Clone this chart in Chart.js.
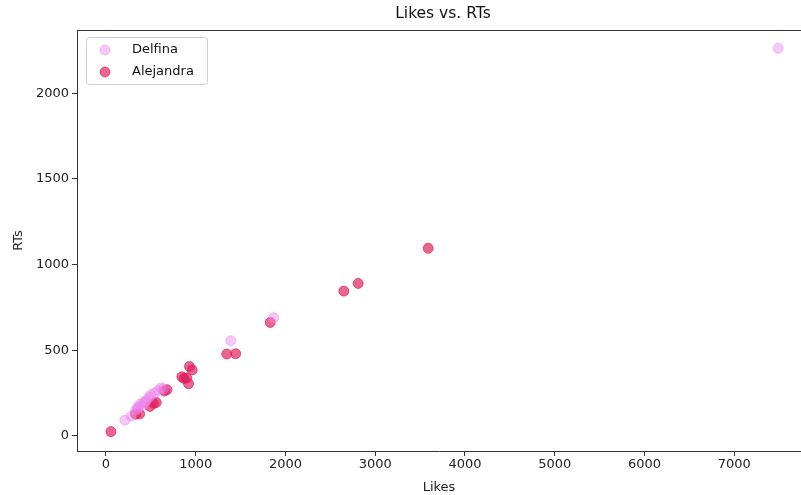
<!DOCTYPE html>
<html>
<head>
<meta charset="utf-8">
<script src="https://cdn.jsdelivr.net/npm/chart.js@4"></script>
<style>
  html, body { margin: 0; padding: 0; background: #fff; }
  #wrap { width: 801px; height: 495px; }
</style>
</head>
<body>
<div id="wrap"><canvas id="myChart" width="801" height="495"></canvas></div>
<script>
// values
const delfinaLikes = [210, 280, 330, 350, 360, 380, 400, 420, 440, 450, 480, 500, 540, 580, 610, 640, 1390, 1870, 7490];
const delfinaRTs   = [92, 115, 150, 160, 170, 185, 175, 195, 200, 210, 225, 240, 250, 265, 280, 275, 555, 690, 2262];
const alejandraLikes = [55, 330, 375, 490, 530, 560, 650, 680, 845, 870, 900, 920, 930, 960, 1345, 1445, 1830, 2650, 2810, 3590];
const alejandraRTs   = [25, 127, 128, 172, 190, 195, 262, 270, 345, 335, 338, 305, 405, 385, 478, 480, 662, 845, 890, 1095];
const xTicks = [0, 1000, 2000, 3000, 4000, 5000, 6000, 7000];
const yTicks = [0, 500, 1000, 1500, 2000];

const FONT = "'DejaVu Sans', sans-serif";

function toPoints(xs, ys) {
	return xs.map((x, i) => ({ x: x, y: ys[i] }));
}

// frame on top + title + legend box like matplotlib
const extras = {
	id: "extras",
	afterDraw(chart) {
		const ctx = chart.ctx;
		const a = chart.chartArea;
		ctx.save();
		ctx.strokeStyle = "#333";
		ctx.lineWidth = 1;
		ctx.beginPath();
		ctx.moveTo(a.left, a.top + 0.5);
		ctx.lineTo(a.right, a.top + 0.5);
		ctx.stroke();

		ctx.fillStyle = "#111";
		ctx.font = "15.5px " + FONT;
		ctx.textAlign = "center";
		ctx.textBaseline = "middle";
		ctx.fillText("Likes vs. RTs", 443, 14);

		// legend
		const bx = 86, by = 37, bw = 121, bh = 47;
		ctx.strokeStyle = "rgba(200,200,200,0.9)";
		ctx.fillStyle = "rgba(255,255,255,0.8)";
		ctx.beginPath();
		ctx.roundRect(bx + 0.5, by + 0.5, bw, bh, 3);
		ctx.fill();
		ctx.stroke();
		ctx.font = "13px " + FONT;
		ctx.textAlign = "left";
		chart.data.datasets.forEach((ds, i) => {
			const cy = by + 13 + i * 22;
			ctx.beginPath();
			ctx.arc(105, cy, 5, 0, Math.PI * 2);
			ctx.fillStyle = ds.backgroundColor;
			ctx.fill();
			ctx.strokeStyle = ds.borderColor;
			ctx.stroke();
			ctx.fillStyle = "#111";
			ctx.fillText(ds.label, 132, cy);
		});
		ctx.restore();
	},
};

const plain = (v) => String(v);

const ctx = document.querySelector("#myChart").getContext("2d");
const chart = new Chart(ctx, {
	type: "scatter",
	data: {
		datasets: [
			{
				label: "Delfina",
				data: toPoints(delfinaLikes, delfinaRTs),
				backgroundColor: "rgba(238,130,238,0.45)",
				borderColor: "rgba(238,130,238,0.45)",
				borderWidth: 1,
				pointRadius: 5,
			},
			{
				label: "Alejandra",
				data: toPoints(alejandraLikes, alejandraRTs),
				backgroundColor: "rgba(222,30,90,0.68)",
				borderColor: "rgba(222,30,90,0.68)",
				borderWidth: 1,
				pointRadius: 5,
			},
		],
	},
	options: {
		responsive: false,
		animation: false,
		layout: { autoPadding: false, padding: { top: 30, left: 0, right: 0, bottom: 0 } },
		plugins: {
			legend: { display: false },
			title: { display: false },
			tooltip: { enabled: false },
		},
		scales: {
			x: {
				type: "linear",
				min: -323,
				max: 7744,
				afterBuildTicks: (scale) => { scale.ticks = xTicks.map((v) => ({ value: v })); },
				afterFit: (scale) => { scale.height = 44; },
				grid: { drawOnChartArea: false, drawTicks: true, tickLength: 5, color: "#333" },
				border: { display: true, color: "#333", width: 1 },
				ticks: { color: "#222", font: { family: FONT, size: 13 }, padding: 1, maxRotation: 0, callback: plain },
				title: { display: true, text: "Likes", color: "#222", font: { family: FONT, size: 13 }, padding: { top: 0, bottom: 0 } },
			},
			y: {
				type: "linear",
				min: -88,
				max: 2369,
				afterBuildTicks: (scale) => { scale.ticks = yTicks.map((v) => ({ value: v })); },
				afterFit: (scale) => { scale.width = 77; },
				grid: { drawOnChartArea: false, drawTicks: true, tickLength: 5, color: "#333" },
				border: { display: true, color: "#333", width: 1 },
				ticks: { color: "#222", font: { family: FONT, size: 13 }, padding: 3, callback: plain },
				title: { display: true, text: "RTs", color: "#222", font: { family: FONT, size: 13 }, padding: { top: 11, bottom: 0 } },
			},
		},
	},
	plugins: [extras],
});
</script>
</body>
</html>
